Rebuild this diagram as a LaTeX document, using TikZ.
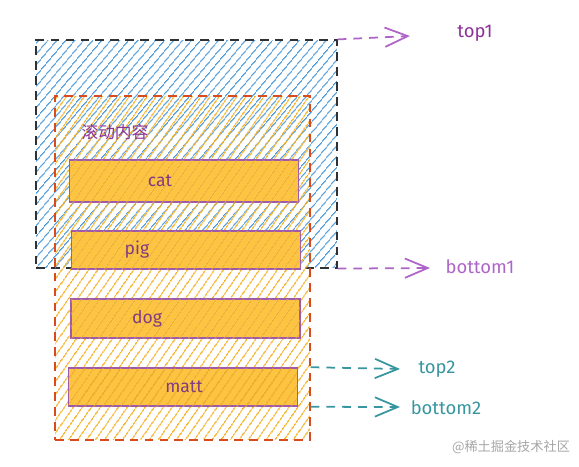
\documentclass[tikz,border=0pt]{standalone}
\usepackage{fontspec}
\setmainfont{Fira Sans}
\newfontfamily\cjk{Noto Sans CJK SC}
\usetikzlibrary{arrows.meta,patterns.meta,positioning}

\definecolor{viewline}{RGB}{45,50,55}
\definecolor{viewhatch}{RGB}{70,150,215}
\definecolor{boxline}{RGB}{215,75,30}
\definecolor{boxhatch}{RGB}{245,175,30}
\definecolor{itemfill}{RGB}{252,196,64}
\definecolor{itemhatch}{RGB}{230,160,40}
\definecolor{itemline}{RGB}{160,90,170}
\definecolor{itemtext}{RGB}{130,60,130}
\definecolor{purp}{RGB}{175,100,200}
\definecolor{purptext}{RGB}{140,50,150}
\definecolor{teal}{RGB}{55,150,160}

\begin{document}
\begin{tikzpicture}[
  x=0.02cm, y=-0.02cm,
  viewbox/.style={draw=viewline, line width=1.2pt, dash pattern=on 5pt off 3.5pt,
              pattern={Lines[angle=50,distance=4pt,line width=0.7pt]},
              pattern color=viewhatch, inner sep=0pt},
  scrollbox/.style={draw=boxline, line width=1.2pt, dash pattern=on 5pt off 3.5pt,
              pattern={Lines[angle=55,distance=4pt,line width=0.7pt]},
              pattern color=boxhatch, inner sep=0pt},
  item/.style={draw=itemline, fill=itemfill, line width=0.9pt, inner sep=0pt,
              minimum width=4.58cm,
              postaction={pattern={Lines[angle=55,distance=4pt,line width=0.4pt]},
                          pattern color=itemhatch}},
  itemlbl/.style={text=itemtext, font=\fontsize{10}{11}\selectfont},
  arrP/.style={-{Straight Barb[length=13pt,width=11pt,line width=1pt]},
              draw=purp, line width=1pt, dash pattern=on 5pt off 4pt},
  arrT/.style={-{Straight Barb[length=13pt,width=11pt,line width=1pt]},
              draw=teal, line width=1pt, dash pattern=on 5pt off 4pt},
  lbl/.style={font=\fontsize{10.5}{12}\selectfont},
]
\useasboundingbox (0,0) rectangle (579,467);

% === Viewport and scroll content ===
\node[viewbox, minimum width=6.02cm, minimum height=4.56cm] (view) at (186.5,154) {};
\node[scrollbox, minimum width=5.1cm, minimum height=6.88cm] (content) at (182.5,268) {};
\node[text=purptext, font=\cjk\fontsize{9.5}{10}\selectfont] (title) at (115,132) {滚动内容};

% === Items ===
\node[item, minimum height=0.84cm, label={[itemlbl, xshift=-0.48cm]center:cat}] (cat) at (184,181) {};
\node[item, minimum height=0.76cm, label={[itemlbl, xshift=-0.98cm]center:pig}] (pig) at (186,250) {};
\node[item, minimum height=0.78cm, label={[itemlbl, xshift=-0.77cm]center:dog}] (dog) at (185.5,318.5) {};
\node[item, minimum height=0.76cm, label={[itemlbl, xshift=0.02cm]center:matt}] (matt) at (183,387) {};

% === Offsets ===
\node[lbl, text=purptext] (top1) at (475,33) {top1};
\node[lbl, text=purp] (bottom1) at (480,267) {bottom1};
\node[lbl, text=teal] (top2) at (437,369) {top2};
\node[lbl, text=teal] (bottom2) at (446,408) {bottom2};

\coordinate (t1end) at (410,36);
\coordinate (b1end) at (430,268);
\coordinate (t2end) at (400,369);
\coordinate (b2end) at (400,407);

% Arrows
\draw[arrP] (view.north east) -- (t1end);
\draw[arrP] (view.south east) -- (b1end);
\draw[arrT] (content.east |- matt.north) -- (t2end);
\draw[arrT] (content.east |- matt.south) -- (b2end);

\node[text=black!35, font=\cjk\fontsize{7.5}{9}\selectfont] (mark) at (511,447) {@稀土掘金技术社区};
\end{tikzpicture}
\end{document}
